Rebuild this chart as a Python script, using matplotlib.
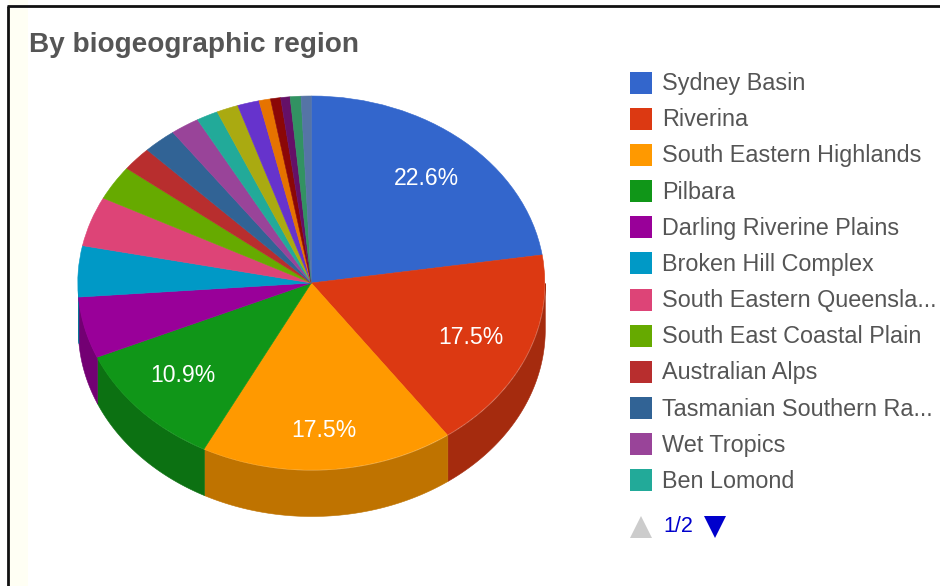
import numpy as np
import matplotlib
matplotlib.use("Agg")
import matplotlib.pyplot as plt
from matplotlib.colors import to_rgb

plt.rcParams['font.family'] = ['Liberation Sans', 'DejaVu Sans']

title = "By biogeographic region"
legend_labels = ["Sydney Basin", "Riverina", "South Eastern Highlands", "Pilbara",
                 "Darling Riverine Plains", "Broken Hill Complex", "South Eastern Queensla...",
                 "South East Coastal Plain", "Australian Alps", "Tasmanian Southern Ra...",
                 "Wet Tropics", "Ben Lomond"]
values = [22.6, 17.5, 17.5, 10.9, 5.3, 4.4, 4.3, 3.0, 2.1, 2.3, 2.0, 1.5,
          1.5, 1.5, 0.8, 0.7, 0.65, 0.75, 0.7]
colors = ["#3366CC", "#DC3912", "#FF9900", "#109618", "#990099", "#0099C6", "#DD4477",
          "#66AA00", "#B82E2E", "#316395", "#994499", "#22AA99", "#AAAA11", "#6633CC",
          "#E67300", "#8B0707", "#651067", "#329262", "#5574A6"]
pager = "1/2"

W, H = 940, 586
fig = plt.figure(figsize=(W / 100, H / 100), dpi=100, facecolor="white")

# pie axes: pixel geometry of the squashed disc
cx, cy, rx, ry, depth_px = 311.3, 283, 233.5, 187, 46
ax = fig.add_axes([0, 0, 1, 1])
wedges, _, autotexts = ax.pie(
    values, colors=colors, startangle=90, counterclock=False, radius=1,
    autopct=lambda p: f"{p:.1f}%" if p >= 10 else "", pctdistance=0.75,
    wedgeprops=dict(linewidth=0.4, zorder=3),
    textprops=dict(color="white", fontsize=16.6))
for w in wedges:
    w.set_edgecolor(w.get_facecolor())
ax.set_aspect("auto")
ax.set_xlim(-cx / rx, (W - cx) / rx)
ax.set_ylim(-(H - cy) / ry, cy / ry)
ax.set_axis_off()

# small nudges (pixels: right, down) for the four percentage labels
nudges = [(1, 2), (-2, 0), (0, 8), (0, -3)]
for t, (dx, dy) in zip(autotexts, nudges):
    x, y = t.get_position()
    t.set_position((x + dx / rx, y - dy / ry))

# rim of the disc: every slice's front arc, extruded downward
depth = depth_px / ry
frac = np.cumsum([0] + values) / sum(values) * 2 * np.pi
for a0, a1, col in zip(frac[:-1], frac[1:], colors):
    lo, hi = max(a0, np.pi / 2), min(a1, 3 * np.pi / 2)
    if hi <= lo:
        continue
    th = np.linspace(lo, hi, 80)
    dark = tuple(c * 0.75 for c in to_rgb(col))
    ax.fill_between(np.sin(th), np.cos(th), np.cos(th) - depth, color=dark,
                    linewidth=0.4, zorder=1)

# overlay in pixel coordinates for frame, title, legend and pager
ov = fig.add_axes([0, 0, 1, 1], facecolor="none")
ov.set_xlim(0, W)
ov.set_ylim(H, 0)
ov.set_axis_off()

ov.axvspan(9, 28, color="#FFFFF4", linewidth=0, zorder=0)
ov.plot([8, 8], [H, 6], color="#111111", lw=2.0, solid_capstyle="butt")
ov.plot([7, W], [6, 6], color="#111111", lw=2.0, solid_capstyle="butt")

ov.text(29, 45, title, fontsize=20.2, fontweight="bold", color="#555555", va="center", ha="left")

for i, (lab, col) in enumerate(zip(legend_labels, colors)):
    y = 82.5 + 36.18 * i
    ov.plot([641], [y], marker="s", ms=15.8, mew=0, color=col, ls="none")
    ov.text(662, y + 1, lab, fontsize=16.8, color="#555555", va="center", ha="left")

ov.plot([641], [527], marker="^", ms=16, mew=0, color="#CCCCCC", ls="none")
ov.text(663, 527, pager, fontsize=15.5, color="#0000CC", va="center", ha="left")
ov.plot([715], [527], marker="v", ms=16, mew=0, color="#0000CC", ls="none")

fig.savefig("out.png", dpi=100)
